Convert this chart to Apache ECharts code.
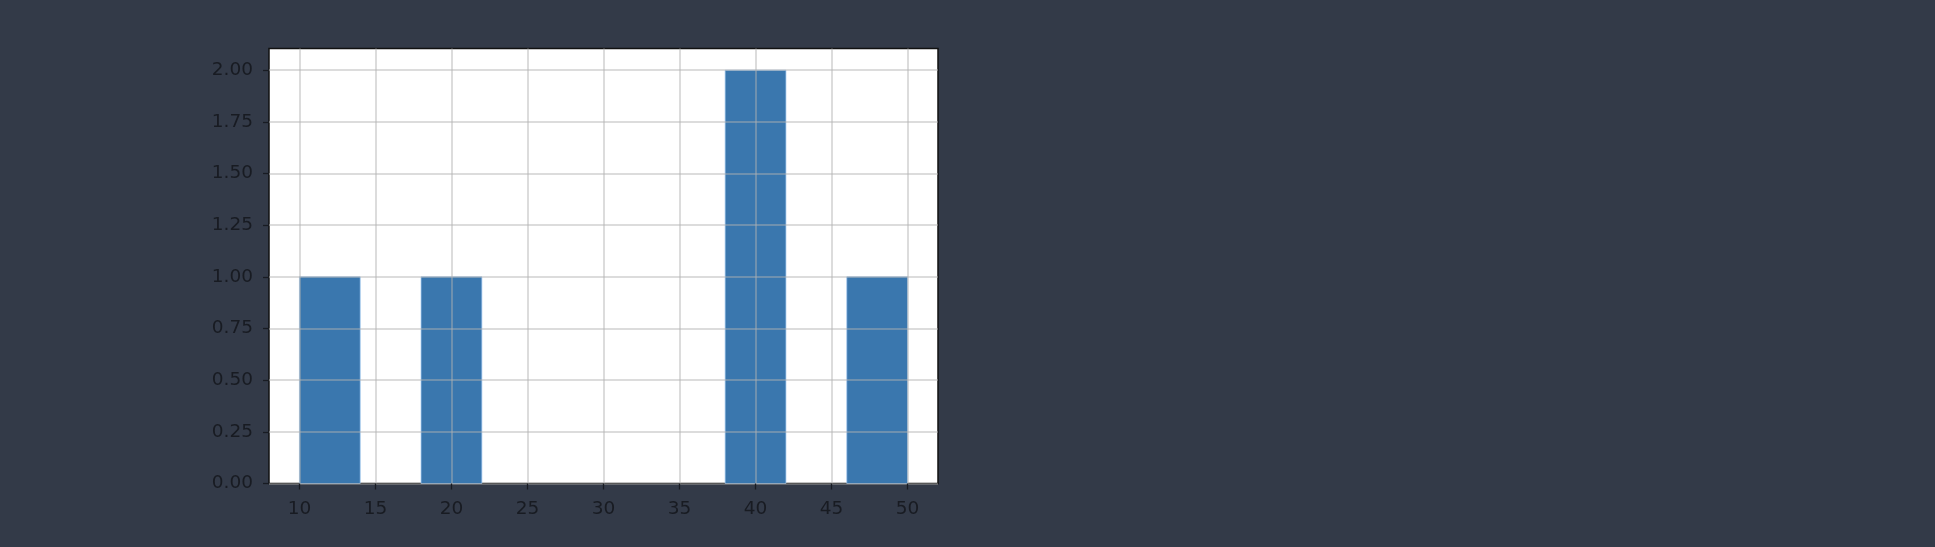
<!DOCTYPE html>
<html>
<head>
<meta charset="utf-8">
<script src="https://cdn.jsdelivr.net/npm/echarts@6/dist/echarts.min.js"></script>
<style>
html,body{margin:0;padding:0;background:#333a48;}
#chart{width:1935px;height:547px;}
</style>
</head>
<body>
<div id="chart"></div>
<script>
// Histogram data: bin edges and counts
const binEdges = [10, 14, 18, 22, 26, 30, 34, 38, 42, 46, 50];
const counts = [1, 0, 1, 0, 0, 0, 0, 2, 0, 1];
const xTicks = [10, 15, 20, 25, 30, 35, 40, 45, 50];
const yTicks = [0, 0.25, 0.5, 0.75, 1.0, 1.25, 1.5, 1.75, 2.0];

const barData = counts.map((c, i) => [binEdges[i], binEdges[i + 1], c]);

const chart = echarts.init(document.getElementById('chart'), null, {renderer: 'canvas'});
const textColor = '#181b22';
const font = 'DejaVu Sans';
chart.setOption({
  backgroundColor: '#333a48',
  animation: false,
  grid: {
    left: 269, right: 997, top: 48.5, bottom: 63.5,
    show: true, backgroundColor: '#ffffff', borderColor: '#111111', borderWidth: 1.5
  },
  xAxis: {
    type: 'value', min: 8, max: 52, z: 10,
    axisLine: {show: false},
    axisTick: {show: true, length: 6, lineStyle: {color: '#181b22', width: 1.3}, customValues: xTicks},
    axisLabel: {customValues: xTicks, color: textColor, fontFamily: font, fontSize: 18.5, margin: 16},
    splitLine: {show: true, lineStyle: {color: 'rgba(176,176,176,0.6)', width: 1.5}}
  },
  yAxis: {
    type: 'value', min: 0, max: 2.105, z: 10,
    axisLine: {show: false},
    axisTick: {show: true, length: 6, lineStyle: {color: '#181b22', width: 1.3}, customValues: yTicks},
    axisLabel: {customValues: yTicks, color: textColor, fontFamily: font, fontSize: 18.5, margin: 16,
      formatter: v => Number(v).toFixed(2)},
    splitLine: {show: true, lineStyle: {color: 'rgba(176,176,176,0.6)', width: 1.5}}
  },
  series: [{
    type: 'custom',
    z: 2,
    data: barData,
    renderItem: function (params, api) {
      const x0 = api.value(0), x1 = api.value(1), h = api.value(2);
      if (!h) return null;
      const p0 = api.coord([x0, 0]);
      const p1 = api.coord([x1, h]);
      return {
        type: 'rect',
        shape: {x: p0[0], y: p1[1], width: p1[0] - p0[0], height: p0[1] - p1[1]},
        style: {fill: '#3a77ae', stroke: 'rgba(160,200,240,0.7)', lineWidth: 1}
      };
    }
  }]
});
</script>
</body>
</html>
